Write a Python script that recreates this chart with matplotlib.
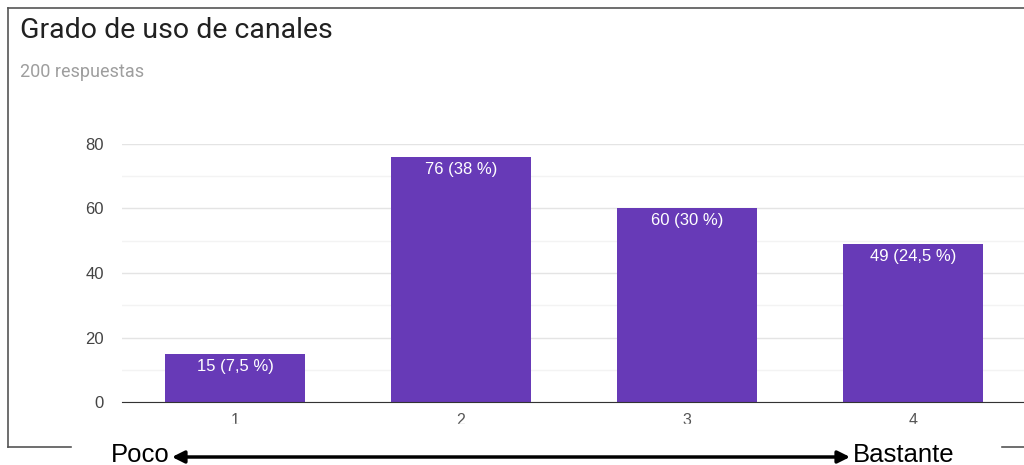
import matplotlib.pyplot as plt
from matplotlib.patches import Rectangle
from matplotlib.lines import Line2D

categories = ['1', '2', '3', '4']
counts = [15, 76, 60, 49]
labels = ['15 (7,5 %)', '76 (38 %)', '60 (30 %)', '49 (24,5 %)']
title = 'Grado de uso de canales'
subtitle = '200 respuestas'

plt.rcParams['font.family'] = ['Roboto', 'DejaVu Sans']
chart_font = ['Liberation Sans', 'DejaVu Sans']

W, H = 1024, 465
fig = plt.figure(figsize=(W / 100, H / 100), dpi=100)


def fx(px):
    return px / W


def fy(py):
    return 1 - py / H


ax = fig.add_axes([fx(122), fy(402), fx(904), (402 - 144) / H])
x = list(range(1, len(categories) + 1))
bars = ax.bar(x, counts, width=0.62, color='#673ab7', zorder=3)
for b, lab in zip(bars, labels):
    ax.annotate(lab, (b.get_x() + b.get_width() / 2, b.get_height()),
                xytext=(0, -9), textcoords='offset points',
                ha='center', va='center', color='white', fontsize=12,
                family=chart_font, zorder=4)

ax.set_xlim(0.5, 4.5)
ax.set_ylim(0, 80)
ax.set_yticks([0, 20, 40, 60, 80])
ax.set_yticks([10, 30, 50, 70], minor=True)
ax.set_xticks(x)
ax.set_xticklabels(categories)
ax.grid(axis='y', which='major', color='#e4e4e4', lw=1, zorder=0)
ax.grid(axis='y', which='minor', color='#f3f3f3', lw=1, zorder=0)
for s in ['top', 'right', 'left']:
    ax.spines[s].set_visible(False)
ax.spines['bottom'].set_color('#333333')
ax.spines['bottom'].set_zorder(5)
ax.tick_params(axis='y', which='both', length=0, pad=13, labelsize=12,
               labelcolor='#444444')
ax.tick_params(axis='x', length=0, pad=8, labelsize=11.5, labelcolor='#555555')
for t in ax.get_xticklabels() + ax.get_yticklabels():
    t.set_family(chart_font)

fig.text(fx(20), fy(30), title, fontsize=20.5, color='#212121',
         ha='left', va='center')
fig.text(fx(20), fy(72), subtitle, fontsize=13, color='#9e9e9e',
         ha='left', va='center')

# screenshot frame
frame = dict(color='#555555', lw=1.2, transform=fig.transFigure)
fig.add_artist(Line2D([fx(8), fx(8)], [fy(8), fy(447)], **frame))
fig.add_artist(Line2D([fx(8), 1], [fy(8), fy(8)], **frame))
fig.add_artist(Line2D([fx(8), 1], [fy(447), fy(447)], **frame))

# white box with the scale annotation, pasted on top
fig.add_artist(Rectangle((fx(72), 0), fx(1000 - 72), fy(424), color='white',
                         transform=fig.transFigure, zorder=10))
fig.text(fx(170), fy(455), 'Poco', fontsize=18.5, color='black',
         family=chart_font, ha='right', va='center', zorder=11)
fig.text(fx(853), fy(455), 'Bastante', fontsize=18.5, color='black',
         family=chart_font, ha='left', va='center', zorder=11)
fig.add_artist(plt.annotate('', xy=(fx(850), fy(457)), xytext=(fx(172), fy(457)),
                            xycoords='figure fraction',
                            arrowprops=dict(arrowstyle='<|-|>', color='black',
                                            lw=2.5, mutation_scale=18,
                                            shrinkA=0, shrinkB=0),
                            zorder=11))

fig.savefig('out.png', dpi=100)
